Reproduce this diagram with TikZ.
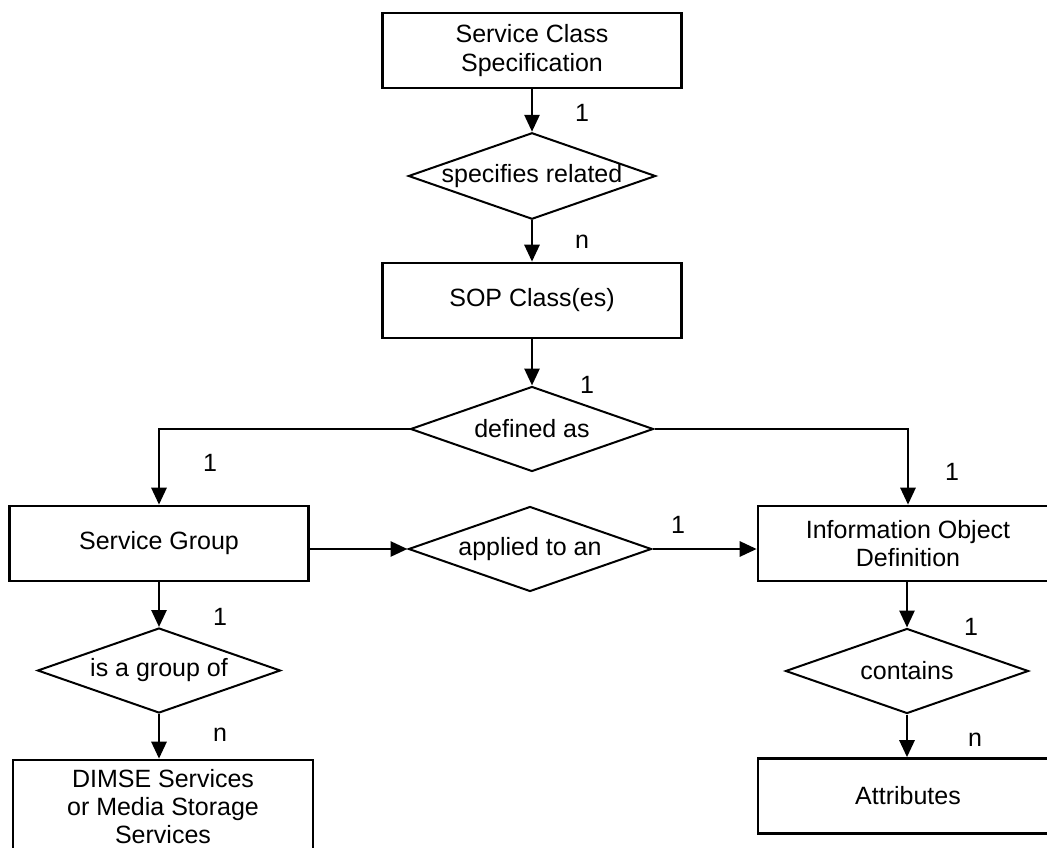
\documentclass[tikz,border=0pt]{standalone}
\usepackage{fontspec}
\setmainfont{Liberation Sans}
\usetikzlibrary{shapes.geometric,arrows.meta}
\begin{document}
\begin{tikzpicture}[x=1pt,y=-1pt,
  box/.style={draw,line width=2.6pt,minimum width=299pt,minimum height=75pt,inner sep=0pt,align=center,font=\fontsize{25}{28.5}\selectfont},
  dia/.style={draw,diamond,shape aspect=2.86,line width=2pt,inner sep=0pt,minimum width=243pt,minimum height=85pt,font=\fontsize{25}{28.5}\selectfont},
  conn/.style={line width=2.8pt,-{Triangle[length=17pt,width=15pt]}},
  card/.style={font=\fontsize{25}{28}\selectfont,inner sep=0pt}]
\useasboundingbox (0,0) rectangle (1047,848);
\clip (0,0) rectangle (1047,848);
\node[box] (scs) at (532,50.5) {Service Class\\Specification};
\node[dia] (d1) at (532,176) {specifies related};
\node[box] (sop) at (532,300.5) {SOP Class(es)};
\node[dia] (d2) at (532,429) {defined as};
\node[box] (sg) at (159,543.5) {Service Group};
\node[dia] (d3) at (530,549) {applied to an};
\node[box,minimum width=300pt] (iod) at (908,543.5) {Information Object\\Definition};
\node[dia] (d4) at (907,671) {contains};
\node[box,minimum width=300pt] (attr) at (908,796) {Attributes};
\node[dia] (d5) at (159,670.5) {is a group of};
\node[box,minimum height=94pt,minimum width=300pt,font=\fontsize{25}{28}\selectfont] (dimse) at (163,807) {DIMSE Services\\or Media Storage\\Services};
\node[card] (c1) at (582,113) {1};
\node[card] (c2) at (582,242) {n};
\node[card] (c3) at (587,385) {1};
\node[card] (c4) at (210,463) {1};
\node[card] (c5) at (952,472) {1};
\node[card] (c6) at (678,525) {1};
\node[card] (c7) at (220,617) {1};
\node[card] (c8) at (220,735) {n};
\node[card] (c9) at (971,627) {1};
\node[card] (c10) at (975,740) {n};
\draw[conn] (scs.south) -- (d1.north);
\draw[conn] (d1.south) -- (sop.north);
\draw[conn] (sop.south) -- (d2.north);
\draw[conn] (d2.west) -| (sg.north);
\draw[conn] (d2.east) -| (iod.north);
\draw[conn] (sg.east |- d3.west) -- (d3.west);
\draw[conn] (d3.east) -- (d3.east -| iod.west);
\draw[conn] (sg.south) -- (d5.north);
\draw[conn] (d5.south) -- (d5.south |- dimse.north);
\draw[conn] (d4.north |- iod.south) -- (d4.north);
\draw[conn] (d4.south) -- (d4.south |- attr.north);
\end{tikzpicture}
\end{document}
